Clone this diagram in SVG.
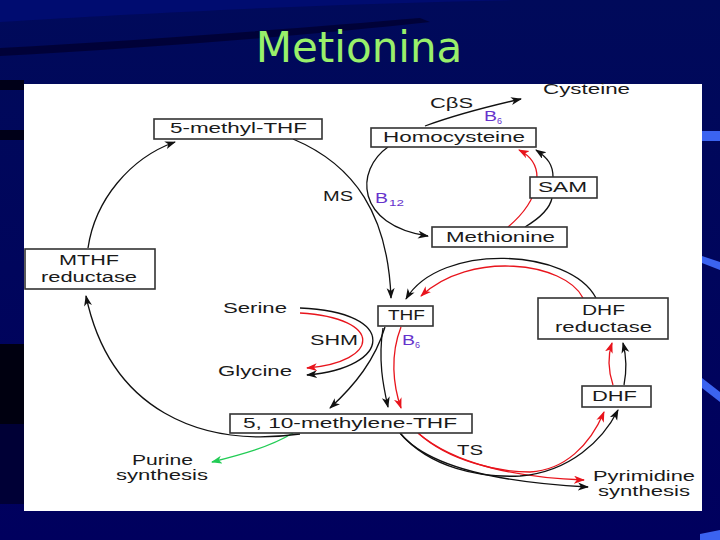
<svg xmlns="http://www.w3.org/2000/svg" width="720" height="540" viewBox="0 0 720 540">
<defs>
<linearGradient id="bg" x1="0" y1="0" x2="0" y2="1">
<stop offset="0" stop-color="#000a5a"/>
<stop offset="1" stop-color="#00005e"/>
</linearGradient>
<marker id="ak" markerUnits="userSpaceOnUse" markerWidth="12" markerHeight="10" refX="10" refY="4" orient="auto"><path d="M0,0 L11,4 L0,8 L3,4 z" fill="#111"/></marker>
<marker id="ar" markerUnits="userSpaceOnUse" markerWidth="12" markerHeight="10" refX="10" refY="4" orient="auto"><path d="M0,0 L11,4 L0,8 L3,4 z" fill="#e8141c"/></marker>
<marker id="ag" markerUnits="userSpaceOnUse" markerWidth="12" markerHeight="10" refX="10" refY="4" orient="auto"><path d="M0,0 L11,4 L0,8 L3,4 z" fill="#22cc55"/></marker>
<style>
.t{font-family:"Liberation Sans",Arial,sans-serif;font-size:14px;fill:#1a1a1a}
.p{font-family:"Liberation Sans",Arial,sans-serif;font-size:14px;fill:#6633cc}
.s{font-family:"Liberation Sans",Arial,sans-serif;font-size:9px;fill:#6633cc}
.b{fill:#fff;stroke:#333;stroke-width:1.6}
.k{fill:none;stroke:#111;stroke-width:1.3;marker-end:url(#ak)}
.kn{fill:none;stroke:#111;stroke-width:1.3}
.r{fill:none;stroke:#e8141c;stroke-width:1.3;marker-end:url(#ar)}
.g{fill:none;stroke:#22cc55;stroke-width:1.3;marker-end:url(#ag)}
</style>
</defs>
<rect width="720" height="540" fill="url(#bg)"/>
<path d="M0,22 C200,10 500,-5 720,0 L720,0 L0,0 z" fill="#000c70"/>
<path d="M0,48 C150,40 300,28 420,18 L430,22 C300,36 150,48 0,56 z" fill="#000030" opacity="0.8"/>
<rect x="0" y="80" width="24" height="10" fill="#000018"/>
<rect x="0" y="130" width="24" height="10" fill="#000018"/>
<rect x="0" y="344" width="24" height="80" fill="#000010"/>
<rect x="0" y="424" width="24" height="80" fill="#000036"/>
<rect x="702" y="131" width="18" height="10" fill="#3b63f0"/>
<path d="M702,256 L720,262 L720,270 L702,263 z" fill="#3b63f0"/>
<path d="M702,378 L720,392 L720,402 L702,388 z" fill="#3b63f0"/>
<path d="M700,534 L720,530 L720,540 L700,540 z" fill="#3b63f0"/>
<text x="359" y="62" text-anchor="middle" font-family="DejaVu Sans, Verdana, sans-serif" font-size="42" fill="#99f06a">Metionina</text>
<rect x="24" y="84" width="678" height="427" fill="#fff"/>

<g id="connectors">
<path class="k" d="M88,248 C95,200 130,158 175,142"/>
<path class="k" d="M293,139 C355,165 388,215 391,298"/>
<path class="k" d="M388,147 C355,170 355,225 428,236"/>
<path class="k" d="M425,126 C455,115 490,106 521,99"/>
<path class="r" d="M508,227 C540,200 548,165 519,150"/>
<path class="kn" d="M525,227 C540,218 550,208 552,198"/>
<path class="k" d="M553,177 C553,165 548,158 536,150"/>
<path class="r" d="M583,298 C565,262 470,250 421,296"/>
<path class="k" d="M596,298 C570,248 440,242 406,299"/>
<path class="k" d="M300,308 C400,312 392,368 307,375"/>
<path class="r" d="M300,313 C385,318 380,362 307,368"/>
<path class="k" d="M385,327 C375,360 355,385 330,408"/>
<path class="k" d="M383,328 C378,360 383,385 388,407"/>
<path class="r" d="M401,327 C390,355 393,385 401,408"/>
<path class="r" d="M418,433 C450,462 500,472 530,472 C565,470 590,445 604,412"/>
<path class="r" d="M418,433 C455,465 520,478 584,480"/>
<path class="k" d="M400,433 C430,470 510,483 588,487"/>
<path class="k" d="M400,433 C430,468 480,478 520,476 C570,472 603,440 618,410"/>
<path class="r" d="M613,385 C608,370 608,355 612,343"/>
<path class="k" d="M624,385 C627,370 626,355 623,343"/>
<path class="g" d="M293,433 C270,447 240,455 212,462"/>
<path class="k" d="M300,434 C200,448 110,410 86,296"/>
</g>

<g id="methyl5"><rect class="b" x="154" y="119" width="168" height="20"/><text class="t" x="170" y="133" textLength="137" lengthAdjust="spacingAndGlyphs">5-methyl-THF</text></g>
<g id="homocysteine"><rect class="b" x="371" y="128" width="165" height="19"/><text class="t" x="383" y="142" textLength="142" lengthAdjust="spacingAndGlyphs">Homocysteine</text></g>
<g id="cysteine"><text class="t" x="543" y="94" textLength="87" lengthAdjust="spacingAndGlyphs">Cysteine</text></g>
<g id="cbs"><text class="t" x="430" y="108" textLength="43" lengthAdjust="spacingAndGlyphs">CβS</text><text class="p" x="484" y="121" textLength="13" lengthAdjust="spacingAndGlyphs">B</text><text class="s" x="497" y="124">6</text></g>
<g id="sam"><rect class="b" x="530" y="177" width="67" height="21"/><text class="t" x="538" y="192" textLength="49" lengthAdjust="spacingAndGlyphs">SAM</text></g>
<g id="methionine"><rect class="b" x="432" y="227" width="135" height="20"/><text class="t" x="446" y="242" textLength="109" lengthAdjust="spacingAndGlyphs">Methionine</text></g>
<g id="ms"><text class="t" x="323" y="201" textLength="30" lengthAdjust="spacingAndGlyphs">MS</text><text class="p" x="375" y="203" textLength="13" lengthAdjust="spacingAndGlyphs">B</text><text class="s" x="389" y="206" textLength="15" lengthAdjust="spacingAndGlyphs">12</text></g>
<g id="mthfr"><rect class="b" x="25" y="249" width="130" height="40"/><text class="t" x="59" y="265" textLength="60" lengthAdjust="spacingAndGlyphs">MTHF</text><text class="t" x="41" y="282" textLength="96" lengthAdjust="spacingAndGlyphs">reductase</text></g>
<g id="serine"><text class="t" x="223" y="313" textLength="64" lengthAdjust="spacingAndGlyphs">Serine</text></g>
<g id="shm"><text class="t" x="310" y="345" textLength="48" lengthAdjust="spacingAndGlyphs">SHM</text></g>
<g id="glycine"><text class="t" x="218" y="376" textLength="74" lengthAdjust="spacingAndGlyphs">Glycine</text></g>
<g id="thf"><rect class="b" x="378" y="306" width="55" height="20"/><text class="t" x="388" y="320" textLength="37" lengthAdjust="spacingAndGlyphs">THF</text><text class="p" x="402" y="345" textLength="13" lengthAdjust="spacingAndGlyphs">B</text><text class="s" x="415" y="348">6</text></g>
<g id="methylene"><rect class="b" x="230" y="414" width="242" height="19"/><text class="t" x="243" y="428" textLength="214" lengthAdjust="spacingAndGlyphs">5, 10-methylene-THF</text></g>
<g id="dhfr"><rect class="b" x="538" y="298" width="130" height="41"/><text class="t" x="582" y="315" textLength="43" lengthAdjust="spacingAndGlyphs">DHF</text><text class="t" x="555" y="332" textLength="97" lengthAdjust="spacingAndGlyphs">reductase</text></g>
<g id="dhf"><rect class="b" x="582" y="386" width="69" height="21"/><text class="t" x="592" y="401" textLength="45" lengthAdjust="spacingAndGlyphs">DHF</text></g>
<g id="ts"><text class="t" x="457" y="455" textLength="26" lengthAdjust="spacingAndGlyphs">TS</text></g>
<g id="pyrimidine"><text class="t" x="593" y="481" textLength="102" lengthAdjust="spacingAndGlyphs">Pyrimidine</text><text class="t" x="598" y="496" textLength="92" lengthAdjust="spacingAndGlyphs">synthesis</text></g>
<g id="purine"><text class="t" x="132" y="465" textLength="61" lengthAdjust="spacingAndGlyphs">Purine</text><text class="t" x="116" y="480" textLength="92" lengthAdjust="spacingAndGlyphs">synthesis</text></g>
</svg>
